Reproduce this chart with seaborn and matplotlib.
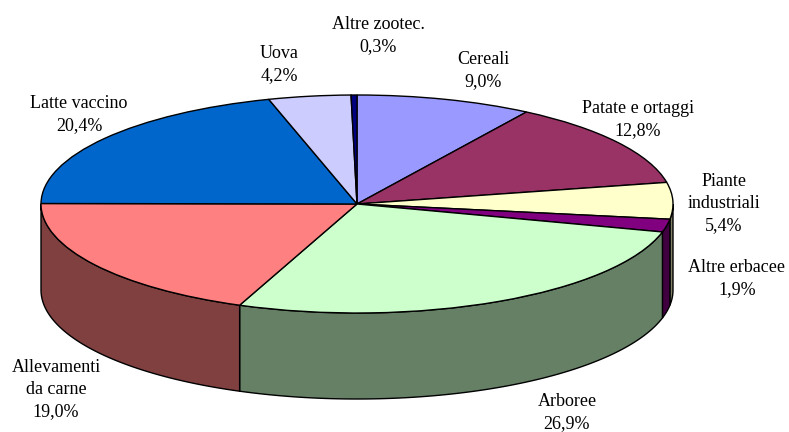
import numpy as np
import matplotlib
matplotlib.use("Agg")
import matplotlib.pyplot as plt
import seaborn as sns

labels = ['Cereali', 'Patate e ortaggi', 'Piante\nindustriali', 'Altre erbacee', 'Arboree',
          'Allevamenti\nda carne', 'Latte vaccino', 'Uova', 'Altre zootec.']
values = [9.0, 12.8, 5.4, 1.9, 26.9, 19.0, 20.4, 4.2, 0.3]
value_labels = ['9,0%', '12,8%', '5,4%', '1,9%', '26,9%', '19,0%', '20,4%', '4,2%', '0,3%']
colors = ['#9999FF', '#993366', '#FFFFCC', '#800080', '#CCFFCC',
          '#FF8080', '#0066CC', '#CCCCFF', '#000080']

# label centre x and last line baseline in pixels, same order as labels
label_pos = [(483, 86), (638, 135), (724, 230), (737, 294), (567, 428),
             (56, 416), (79, 130), (279, 80), (378, 51)]

W, H = 789, 432
cx, cy = 357, 204   # pie centre, pixels
rx, ry = 316, 109   # ellipse radii
depth = 86 / ry     # wall height in pie units

sns.set_theme(style="white")
plt.rcParams['font.family'] = ['Liberation Serif', 'DejaVu Serif']
palette = sns.color_palette(colors)

fig = plt.figure(figsize=(W / 100, H / 100), dpi=100, facecolor='white')
ax = fig.add_axes([0, 0, 1, 1])

# side wall, only the front half of the pie shows
angles = 90 - np.cumsum([0] + values) / sum(values) * 360
for i in range(len(values)):
    hi, lo = angles[i], angles[i + 1]
    # front half runs from 0 down to -180, the last slices wrap past it
    hi, lo = min(hi, 0), max(lo, -180)
    if hi <= lo:
        continue
    t = np.radians(np.linspace(lo, hi, 80))
    x = np.cos(t)
    y = np.sin(t)
    dark = tuple(c * 0.5 for c in palette[i])
    if i == 2:
        dark = (0.5, 0.5, 0.4)
    if i == 4:
        dark = (0.4, 0.5, 0.4)
    ax.fill(np.r_[x, x[::-1]], np.r_[y, y[::-1] - depth], facecolor=dark,
            edgecolor='black', linewidth=1.0, zorder=1)

# top face
ax.pie(values, colors=palette, startangle=90, counterclock=False, radius=1,
       wedgeprops=dict(edgecolor='black', linewidth=1.0, zorder=2))
ax.set_aspect('auto')
ax.set_xlim(-cx / rx, (W - cx) / rx)
ax.set_ylim(-(H - cy) / ry, cy / ry)

for name, val, (px, py) in zip(labels, value_labels, label_pos):
    ax.text(px / W, 1 - py / H, name + '\n' + val, transform=ax.transAxes, ha='center', va='baseline',
            fontsize=13, color='black', linespacing=1.4)

plt.savefig('out.png', dpi=100)
plt.close()
